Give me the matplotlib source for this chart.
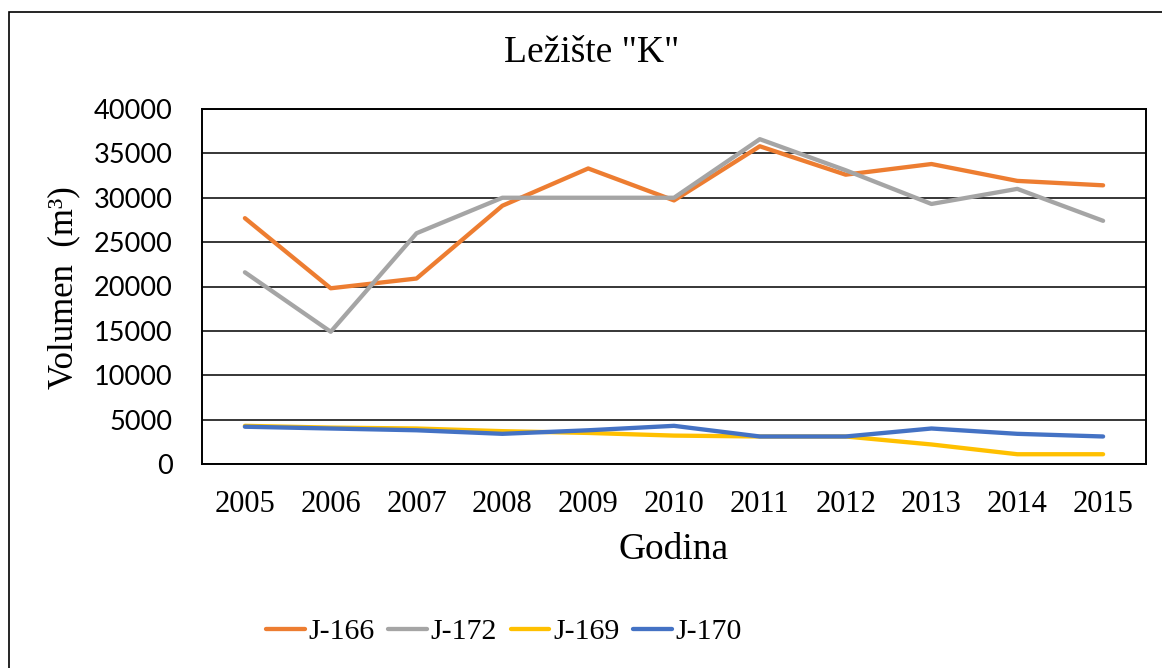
import matplotlib.pyplot as plt
from matplotlib.patches import Rectangle

# annual volumes per well, deposit "K"
years = ['2005', '2006', '2007', '2008', '2009', '2010',
         '2011', '2012', '2013', '2014', '2015']
j166 = [27700, 19800, 20900, 29100, 33300, 29700, 35800, 32600, 33800, 31900, 31400]
j172 = [21600, 14900, 26000, 30000, 30000, 30000, 36600, 33100, 29300, 31000, 27400]
j169 = [4300, 4100, 4000, 3700, 3500, 3200, 3100, 3100, 2200, 1100, 1100]
j170 = [4200, 4000, 3800, 3400, 3800, 4300, 3100, 3100, 4000, 3400, 3100]

series = [('J-166', j166, '#ED7D31'),
          ('J-172', j172, '#A5A5A5'),
          ('J-169', j169, '#FFC000'),
          ('J-170', j170, '#4472C4')]

serif = 'Liberation Serif'
W, H = 1162, 668

fig = plt.figure(figsize=(W / 100, H / 100), dpi=100)
ax = fig.add_axes([202 / W, 1 - 464 / H, (1146 - 202) / W, (464 - 109) / H])

x = list(range(len(years)))
for name, vals, col in series:
    ax.plot(x, vals, color=col, lw=3.1, solid_capstyle='round',
            solid_joinstyle='round', label=name)

ax.set_xlim(-0.5, len(years) - 0.5)
ax.set_ylim(0, 40000)
ax.set_yticks(range(0, 40001, 5000))
ax.set_xticks(x)
ax.set_xticklabels(years, fontfamily=serif, fontsize=22)
ax.tick_params(axis='y', labelsize=19.5, length=0, pad=21)
ax.tick_params(axis='x', length=0, pad=19)
for lab in ax.get_yticklabels():
    lab.set_fontfamily('Lato')
ax.grid(axis='y', color='black', lw=1.1)
ax.set_axisbelow(True)
for sp in ax.spines.values():
    sp.set_color('black')
    sp.set_linewidth(1.4)

fig.text(592 / W, 1 - 53 / H, 'Ležište "K"', ha='center', va='center',
         fontfamily=serif, fontsize=27)
fig.text(674 / W, 1 - 550 / H, 'Godina', ha='center', va='center',
         fontfamily=serif, fontsize=27)
fig.text(64 / W, 1 - 288 / H, 'Volumen  (m³)', ha='center', va='center',
         rotation=90, fontfamily=serif, fontsize=25)

handles, labels = ax.get_legend_handles_labels()
fig.legend(handles, labels, loc='center', ncol=4, frameon=False,
           bbox_to_anchor=(504 / W, 1 - 632 / H),
           prop={'family': serif, 'size': 21.5},
           handlelength=1.3, handletextpad=0.12, columnspacing=0.45)

# chart area border
fig.patches.append(Rectangle((8.5 / W, -0.1), 1.2, 1 - 12 / H + 0.1,
                             transform=fig.transFigure, fill=False,
                             edgecolor='black', lw=1.2))

fig.savefig('out.png', dpi=100)
